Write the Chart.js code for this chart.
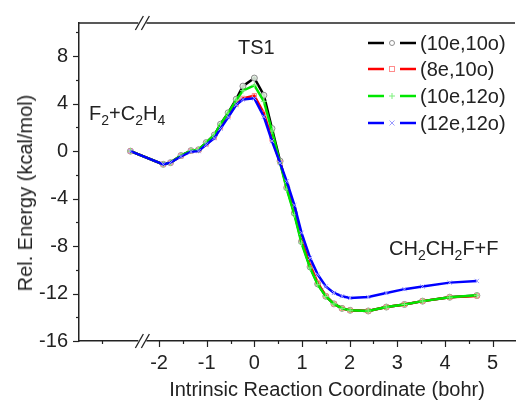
<!DOCTYPE html>
<html>
<head>
<meta charset="utf-8">
<script src="https://cdn.jsdelivr.net/npm/chart.js@4"></script>
<style>
  html, body { margin:0; padding:0; background:#fff; }
  #wrap { position:relative; width:520px; height:402px; font-family:"Liberation Sans", Arial, sans-serif; color:#222; }
  canvas { position:absolute; left:0; top:0; }
  .lbl { position:absolute; font-size:20px; white-space:nowrap; line-height:1; }
  .lbl sub { font-size:14px; vertical-align:-5px; line-height:0; }
  .leg { position:absolute; left:360px; font-size:20px; white-space:nowrap; line-height:1; display:flex; align-items:center; }
  .leg svg { margin-right:4px; }
</style>
</head>
<body>
<div id="wrap">
  <canvas id="c" width="520" height="402"></canvas>
  <div class="lbl" style="left:238px; top:37px;">TS1</div>
  <div class="lbl" style="left:89px; top:103px;">F<sub>2</sub>+C<sub>2</sub>H<sub>4</sub></div>
  <div class="lbl" style="left:389px; top:238px;">CH<sub>2</sub>CH<sub>2</sub>F+F</div>
  <div class="lbl" id="ytitle" style="left:25px; top:193px; transform:translate(-50%,-50%) rotate(-90deg);">Rel. Energy (kcal/mol)</div>
  <div class="lbl" style="left:327px; top:389px; transform:translate(-50%,-50%);">Intrinsic Reaction Coordinate (bohr)</div>
  <div id="legend"></div>
</div>
<script>
// ---- data ----
const irc = [-2.60, -1.91, -1.76, -1.54, -1.33, -1.17, -1.01, -0.84, -0.71, -0.55, -0.38, -0.24, 0.00, 0.20, 0.37, 0.54, 0.68, 0.84, 0.99, 1.17, 1.33, 1.50, 1.67, 1.84, 2.01, 2.39, 2.77, 3.15, 3.53, 4.10, 4.67];
const e10e10o = [0, -1.11, -0.97, -0.37, 0.04, 0.12, 0.72, 1.36, 2.27, 3.23, 4.38, 5.48, 6.16, 4.71, 1.91, -0.84, -3.08, -5.23, -7.62, -9.76, -11.19, -12.23, -12.87, -13.25, -13.41, -13.47, -13.14, -12.92, -12.64, -12.31, -12.17];
const e8e10o  = [0, -1.11, -0.97, -0.40, 0.00, 0.08, 0.60, 1.15, 2.00, 2.95, 3.95, 4.45, 4.68, 3.20, 1.00, -0.95, -2.90, -5.00, -7.45, -9.60, -11.10, -12.20, -12.87, -13.25, -13.41, -13.47, -13.14, -12.92, -12.64, -12.31, -12.20];
const e10e12o = [0, -1.11, -0.97, -0.37, 0.04, 0.12, 0.72, 1.36, 2.27, 3.20, 4.30, 5.10, 5.55, 4.20, 1.70, -1.00, -3.20, -5.35, -7.75, -9.85, -11.25, -12.25, -12.87, -13.25, -13.41, -13.47, -13.14, -12.92, -12.64, -12.31, -12.15];
const e12e12o = [0, -1.11, -0.97, -0.45, -0.05, 0.00, 0.55, 1.10, 1.90, 2.85, 3.90, 4.35, 4.45, 2.90, 0.85, -1.00, -2.55, -4.55, -6.88, -9.00, -10.40, -11.40, -11.95, -12.23, -12.37, -12.29, -11.96, -11.63, -11.41, -11.08, -10.94];
const seriesNames = ["(10e,10o)", "(8e,10o)", "(10e,12o)", "(12e,12o)"];
const xTicks = [-2, -1, 0, 1, 2, 3, 4, 5];
const xMinorTicks = [-3.2, -1.5, -0.5, 0.5, 1.5, 2.5, 3.5, 4.5];
const yTicks = [-16, -12, -8, -4, 0, 4, 8];
const yMinorTicks = [-14, -10, -6, -2, 2, 6, 10];
const xRange = [-3.68, 5.47];
const yRange = [-16, 10.8];
const xBreak = -2.35;

// ---- styles ----
const lineColors = ["#000000", "#ff0000", "#00e600", "#0000ff"];
const markColors = ["#8c8c8c", "#ff8c8c", "#7cf07c", "#9a9aff"];
const markStyles = ["circle", "rect", "cross", "crossRot"];
const markFill = ["rgba(225,240,225,0.9)", "rgba(255,255,255,0)", "rgba(255,255,255,0)", "rgba(255,255,255,0)"];
const drawOrder = [4, 3, 2, 1];
const allSeries = [e10e10o, e8e10o, e10e12o, e12e12o];

const datasets = allSeries.map((vals, i) => ({
  label: seriesNames[i],
  data: irc.map((x, k) => ({ x: x, y: vals[k] })),
  borderColor: lineColors[i],
  backgroundColor: markFill[i],
  borderWidth: 2.5,
  pointStyle: markStyles[i],
  pointRadius: 3,
  pointBorderWidth: 1,
  pointBorderColor: markColors[i],
  pointBackgroundColor: markFill[i],
  tension: 0,
  order: drawOrder[i]
}));

const axisColor = "#222";
const decor = {
  id: "decor",
  afterDraw(chart) {
    const ctx = chart.ctx, ca = chart.chartArea;
    const xs = chart.scales.x, ys = chart.scales.y;
    ctx.save();
    ctx.strokeStyle = axisColor;
    ctx.lineWidth = 1.5;
    // top frame line
    ctx.beginPath(); ctx.moveTo(ca.left, ca.top); ctx.lineTo(ca.right, ca.top); ctx.stroke();
    // y ticks (outward)
    ctx.lineWidth = 1.2;
    yTicks.forEach(v => { const p = Math.round(ys.getPixelForValue(v)) + 0.5; ctx.beginPath(); ctx.moveTo(ca.left - 6, p); ctx.lineTo(ca.left, p); ctx.stroke(); });
    yMinorTicks.forEach(v => { const p = Math.round(ys.getPixelForValue(v)) + 0.5; ctx.beginPath(); ctx.moveTo(ca.left - 3, p); ctx.lineTo(ca.left, p); ctx.stroke(); });
    // x ticks (outward, downwards)
    xTicks.forEach(v => { const p = Math.round(xs.getPixelForValue(v)) + 0.5; ctx.beginPath(); ctx.moveTo(p, ca.bottom); ctx.lineTo(p, ca.bottom + 6); ctx.stroke(); });
    xMinorTicks.forEach(v => { const p = Math.round(xs.getPixelForValue(v)) + 0.5; ctx.beginPath(); ctx.moveTo(p, ca.bottom); ctx.lineTo(p, ca.bottom + 3); ctx.stroke(); });
    // axis breaks
    const bx = xs.getPixelForValue(xBreak);
    [ca.top, ca.bottom].forEach(yy => {
      ctx.fillStyle = "#fff";
      ctx.fillRect(bx - 4, yy - 2, 8, 4);
      ctx.strokeStyle = axisColor;
      ctx.lineWidth = 1.3;
      [-3, 3].forEach(d => {
        ctx.beginPath();
        ctx.moveTo(bx + d - 4, yy + 7);
        ctx.lineTo(bx + d + 4, yy - 7);
        ctx.stroke();
      });
    });
    ctx.restore();
  }
};

new Chart(document.getElementById("c"), {
  type: "line",
  data: { datasets: datasets },
  options: {
    responsive: false,
    animation: false,
    layout: { padding: { top: 15, right: 0, left: 0, bottom: 0 } },
    plugins: { legend: { display: false }, tooltip: { enabled: false } },
    scales: {
      x: {
        type: "linear",
        min: xRange[0], max: xRange[1],
        afterBuildTicks: s => { s.ticks = xTicks.map(v => ({ value: v })); },
        afterFit: s => { s.height = 61; },
        grid: { display: false, drawTicks: false },
        border: { display: true, color: axisColor, width: 1.5 },
        ticks: { color: axisColor, padding: 10, maxRotation: 0, font: { family: "'Liberation Sans', Arial, sans-serif", size: 20 },
                 callback: v => String(v) }
      },
      y: {
        type: "linear",
        min: yRange[0], max: yRange[1],
        afterBuildTicks: s => { s.ticks = yTicks.map(v => ({ value: v })); },
        afterFit: s => { s.width = 79; },
        grid: { display: false, drawTicks: false },
        border: { display: true, color: axisColor, width: 1.5 },
        ticks: { color: axisColor, padding: 11, font: { family: "'Liberation Sans', Arial, sans-serif", size: 20 },
                 callback: v => String(v) }
      }
    }
  },
  plugins: [decor]
});

// ---- legend (line - symbol - line) ----
const legendTops = [33, 59, 86, 113];
const legEl = document.getElementById("legend");
seriesNames.forEach((name, i) => {
  const row = document.createElement("div");
  row.className = "leg";
  row.style.top = legendTops[i] + "px";
  let sym = "";
  const cx = 32, cy = 10, c = markColors[i];
  if (markStyles[i] === "circle") sym = `<circle cx="${cx}" cy="${cy}" r="2.5" fill="#fff" stroke="${c}" stroke-width="1"/>`;
  else if (markStyles[i] === "rect") sym = `<rect x="${cx-2.5}" y="${cy-2.5}" width="5" height="5" fill="#fff" stroke="${c}" stroke-width="1"/>`;
  else if (markStyles[i] === "cross") sym = `<path d="M${cx-3} ${cy}H${cx+3}M${cx} ${cy-3}V${cy+3}" stroke="${c}" stroke-width="1"/>`;
  else sym = `<path d="M${cx-2.5} ${cy-2.5}L${cx+2.5} ${cy+2.5}M${cx-2.5} ${cy+2.5}L${cx+2.5} ${cy-2.5}" stroke="${c}" stroke-width="1"/>`;
  row.innerHTML = `<svg width="56" height="20"><line x1="8" y1="10" x2="24" y2="10" stroke="${lineColors[i]}" stroke-width="2.5"/>${sym}<line x1="40" y1="10" x2="56" y2="10" stroke="${lineColors[i]}" stroke-width="2.5"/></svg><span>${name}</span>`;
  legEl.appendChild(row);
});
</script>
</body>
</html>
